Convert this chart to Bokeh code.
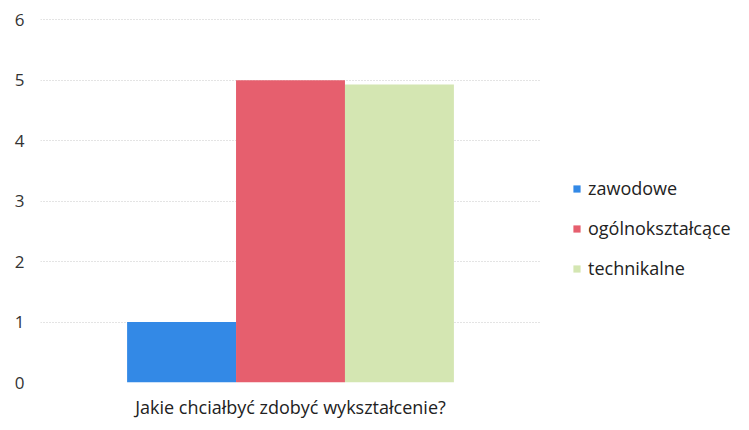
from bokeh.plotting import figure
from bokeh.models import ColumnDataSource, FactorRange, Legend, LegendItem, Title
from bokeh.embed import file_html
from bokeh.resources import INLINE

question = "Jakie chciałbyć zdobyć wykształcenie?"
series = ["zawodowe", "ogólnokształcące", "technikalne"]
values = [1, 5, 4.93]
colors = ["#3389e6", "#e65f6e", "#d4e6b2"]
y_ticks = [0, 1, 2, 3, 4, 5, 6]

FONT = "Open Sans"

source = ColumnDataSource(dict(x=series, top=values, color=colors))

p = figure(output_backend="svg", toolbar_location=None,
           x_range=FactorRange(*series, range_padding=0.53, range_padding_units="percent"),
           y_range=(0, 6.02), min_border_left=40, min_border_right=10,
           min_border_top=18, min_border_bottom=8, frame_width=500, frame_height=364)

r = p.vbar(x="x", top="top", width=1.0, color="color", source=source, line_color=None)

p.outline_line_color = None
p.background_fill_color = "white"
p.border_fill_color = "white"

p.ygrid.grid_line_color = "#c8c8c8"
p.ygrid.grid_line_dash = "1 2"
p.ygrid.grid_line_width = 1
p.xgrid.grid_line_color = None

p.yaxis.ticker = y_ticks
p.yaxis.axis_line_color = None
p.yaxis.major_tick_line_color = None
p.yaxis.minor_tick_line_color = None
p.yaxis.major_label_text_font = FONT
p.yaxis.major_label_text_font_size = "17px"
p.yaxis.major_label_text_color = "#333333"
p.yaxis.major_label_standoff = 10

p.xaxis.visible = False

xlabel = Title(text=question, align="center", text_font=FONT, text_font_style="normal",
               text_font_size="18px", text_color="#222222", standoff=20)
p.add_layout(xlabel, "below")

items = []
for i, name in enumerate(series):
    items.append(LegendItem(label=name, renderers=[r], index=i))
legend = Legend(items=items, location=(32, 102), orientation="vertical",
                padding=0, margin=0, border_line_color=None,
                background_fill_alpha=0, glyph_width=9, glyph_height=9,
                label_standoff=7, label_height=20, spacing=16,
                label_text_font=FONT, label_text_font_size="18px",
                label_text_color="#222222")
p.add_layout(legend, "right")

open("out.html", "w").write(file_html(p, INLINE))
